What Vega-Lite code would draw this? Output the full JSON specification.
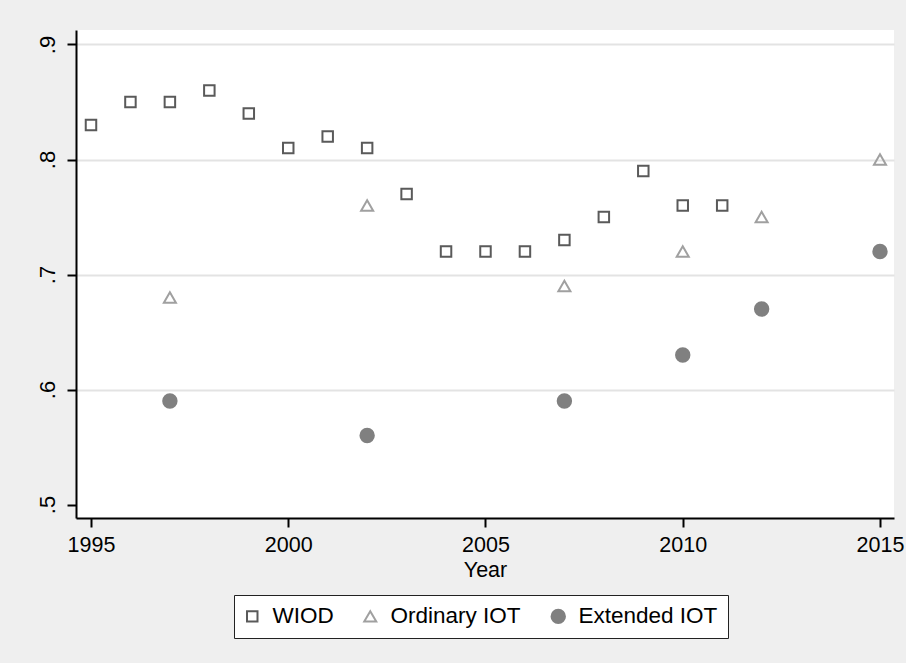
{
  "$schema": "https://vega.github.io/schema/vega-lite/v6.json",
  "width": 818,
  "height": 488,
  "autosize": {"type": "none"},
  "padding": {"left": 76, "top": 30, "right": 12, "bottom": 145},
  "background": "#efefef",
  "view": {"fill": "white", "stroke": null},
  "config": {
    "font": "Liberation Sans",
    "axis": {"labelFont": "Liberation Sans", "titleFont": "Liberation Sans"},
    "legend": {"labelFont": "Liberation Sans"}
  },
  "data": {
    "values": [
      {"year": 1995, "value": 0.83, "series": "WIOD"},
      {"year": 1996, "value": 0.85, "series": "WIOD"},
      {"year": 1997, "value": 0.85, "series": "WIOD"},
      {"year": 1998, "value": 0.86, "series": "WIOD"},
      {"year": 1999, "value": 0.84, "series": "WIOD"},
      {"year": 2000, "value": 0.81, "series": "WIOD"},
      {"year": 2001, "value": 0.82, "series": "WIOD"},
      {"year": 2002, "value": 0.81, "series": "WIOD"},
      {"year": 2003, "value": 0.77, "series": "WIOD"},
      {"year": 2004, "value": 0.72, "series": "WIOD"},
      {"year": 2005, "value": 0.72, "series": "WIOD"},
      {"year": 2006, "value": 0.72, "series": "WIOD"},
      {"year": 2007, "value": 0.73, "series": "WIOD"},
      {"year": 2008, "value": 0.75, "series": "WIOD"},
      {"year": 2009, "value": 0.79, "series": "WIOD"},
      {"year": 2010, "value": 0.76, "series": "WIOD"},
      {"year": 2011, "value": 0.76, "series": "WIOD"},
      {"year": 1997, "value": 0.68, "series": "Ordinary IOT"},
      {"year": 2002, "value": 0.76, "series": "Ordinary IOT"},
      {"year": 2007, "value": 0.69, "series": "Ordinary IOT"},
      {"year": 2010, "value": 0.72, "series": "Ordinary IOT"},
      {"year": 2012, "value": 0.75, "series": "Ordinary IOT"},
      {"year": 2015, "value": 0.80, "series": "Ordinary IOT"},
      {"year": 1997, "value": 0.59, "series": "Extended IOT"},
      {"year": 2002, "value": 0.56, "series": "Extended IOT"},
      {"year": 2007, "value": 0.59, "series": "Extended IOT"},
      {"year": 2010, "value": 0.63, "series": "Extended IOT"},
      {"year": 2012, "value": 0.67, "series": "Extended IOT"},
      {"year": 2015, "value": 0.72, "series": "Extended IOT"}
    ]
  },
  "mark": {"type": "point", "strokeWidth": 2, "opacity": 1},
  "encoding": {
    "x": {
      "field": "year", "type": "quantitative", "title": "Year",
      "scale": {"domain": [1994.62, 2015.355], "nice": false, "zero": false},
      "axis": {
        "values": [1995, 2000, 2005, 2010, 2015], "format": "d",
        "grid": false, "domainColor": "black", "domainWidth": 2,
        "tickColor": "black", "tickWidth": 2, "tickSize": 9,
        "labelFontSize": 21.5, "labelColor": "black", "labelPadding": 7,
        "titleFontSize": 21.5, "titleFontWeight": "normal", "titleColor": "black", "titlePadding": 4
      }
    },
    "y": {
      "field": "value", "type": "quantitative", "title": null,
      "scale": {"domain": [0.4883, 0.9126], "nice": false, "zero": false},
      "axis": {
        "values": [0.5, 0.6, 0.7, 0.8, 0.9], "format": ".1f",
        "labelExpr": "replace(datum.label, '0.', '.')",
        "grid": true, "gridColor": {"condition": {"test": "datum.value < 0.55", "value": "transparent"}, "value": "#e3e3e3"}, "gridWidth": 2,
        "domainColor": "black", "domainWidth": 2,
        "tickColor": "black", "tickWidth": 2, "tickSize": 9,
        "labelFontSize": 22, "labelColor": "black", "labelAngle": 270,
        "labelAlign": "center", "labelBaseline": "bottom", "labelPadding": 8
      }
    },
    "shape": {
      "field": "series", "type": "nominal", "title": null,
      "scale": {"domain": ["WIOD", "Ordinary IOT", "Extended IOT"], "range": ["square", "triangle-up", "circle"]},
      "legend": {
        "orient": "none", "legendX": 158, "legendY": 565, "direction": "horizontal",
        "strokeColor": "#222222", "fillColor": "white", "padding": 10,
        "labelFontSize": 22.5, "labelColor": "black", "labelOffset": 9,
        "symbolStrokeWidth": 2, "symbolOffset": -3, "columnPadding": 26
      }
    },
    "stroke": {
      "field": "series", "type": "nominal", "title": null,
      "scale": {"domain": ["WIOD", "Ordinary IOT", "Extended IOT"], "range": ["#5a5a5a", "#a0a0a0", "#808080"]}
    },
    "fill": {
      "field": "series", "type": "nominal", "title": null,
      "scale": {"domain": ["WIOD", "Ordinary IOT", "Extended IOT"], "range": ["transparent", "transparent", "#808080"]}
    },
    "size": {
      "field": "series", "type": "nominal", "title": null,
      "scale": {"domain": ["WIOD", "Ordinary IOT", "Extended IOT"], "range": [110, 180, 170]}
    }
  }
}
